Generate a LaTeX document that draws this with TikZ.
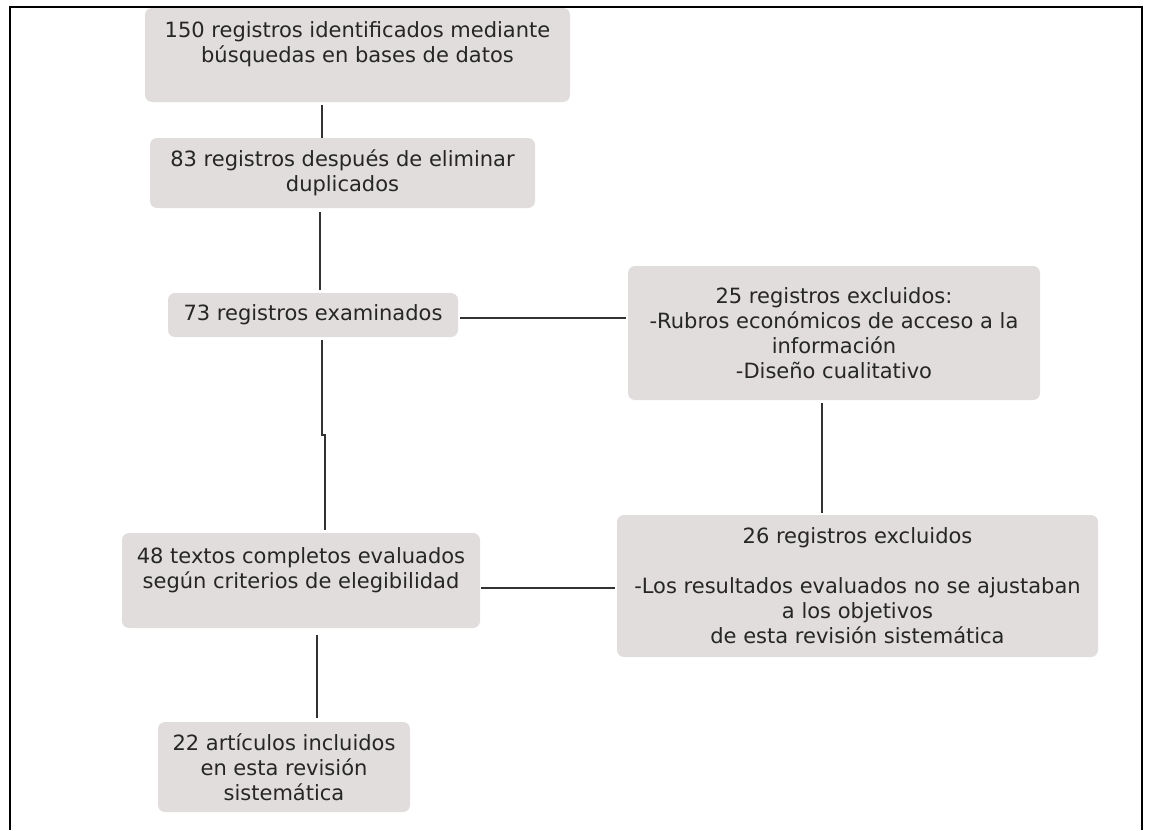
\documentclass[tikz,border=0pt]{standalone}
\usepackage{fontspec}
\setmainfont{DejaVu Sans}
\definecolor{cajagris}{RGB}{224,221,220}
\definecolor{lineagris}{RGB}{50,50,50}

\begin{document}
\begin{tikzpicture}[x=1pt, y=-1pt, caja/.style = {fill=cajagris, rounded corners=7pt, align=center, inner sep=0pt, text=black!85, font=\fontsize{21}{25}\selectfont}, linea/.style = {draw=lineagris, line width=1.2pt}]
\useasboundingbox (0,0) rectangle (1150,830);
\draw[line width=2pt] (10,830) -- (10,7) -- (1142,7) -- (1142,830);
\node[caja, minimum width=425pt, minimum height=94pt] (150) at (357.5,55) {150 registros identificados mediante\\búsquedas en bases de datos\\\mbox{}};
\node[caja, minimum width=385pt, minimum height=70pt] (83) at (342.5,173) {83 registros después de eliminar\\duplicados};
\node[caja, minimum width=290pt, minimum height=44pt] (73) at (313,315) {73 registros examinados};
\node[caja, minimum width=412pt, minimum height=134pt] (25) at (834,333) {25 registros excluidos:\\-Rubros económicos de acceso a la\\información\\-Diseño cualitativo};
\node[caja, minimum width=358pt, minimum height=95pt] (48) at (301,580.5) {48 textos completos evaluados\\según criterios de elegibilidad\\\mbox{}};
\node[caja, minimum width=481pt, minimum height=142pt] (26) at (857.5,586) {26 registros excluidos\\\mbox{}\\-Los resultados evaluados no se ajustaban\\a los objetivos\\de esta revisión sistemática};
\node[caja, minimum width=252pt, minimum height=90pt] (22) at (284,767) {22 artículos incluidos\\en esta revisión\\sistemática};
\draw[linea, shorten <=3pt] (322,0 |- 150.south) -- (322,0 |- 83.north);
\draw[linea, shorten <=4pt, shorten >=3pt] (320,0 |- 83.south) -- (320,0 |- 73.north);
\draw[linea, shorten <=2pt, shorten >=2pt] (73.east |- 0,318) -- (25.west |- 0,318);
\draw[linea, shorten <=3pt, shorten >=2pt] (822,0 |- 25.south) -- (822,0 |- 26.north);
\draw[linea, shorten <=3pt, shorten >=3pt] (322,0 |- 73.south) -- (322,435) -- (325,435) -- (325,0 |- 48.north);
\draw[linea, shorten <=1pt, shorten >=2pt] (48.east |- 0,588) -- (26.west |- 0,588);
\draw[linea, shorten <=7pt, shorten >=4pt] (317,0 |- 48.south) -- (317,0 |- 22.north);
\end{tikzpicture}
\end{document}
